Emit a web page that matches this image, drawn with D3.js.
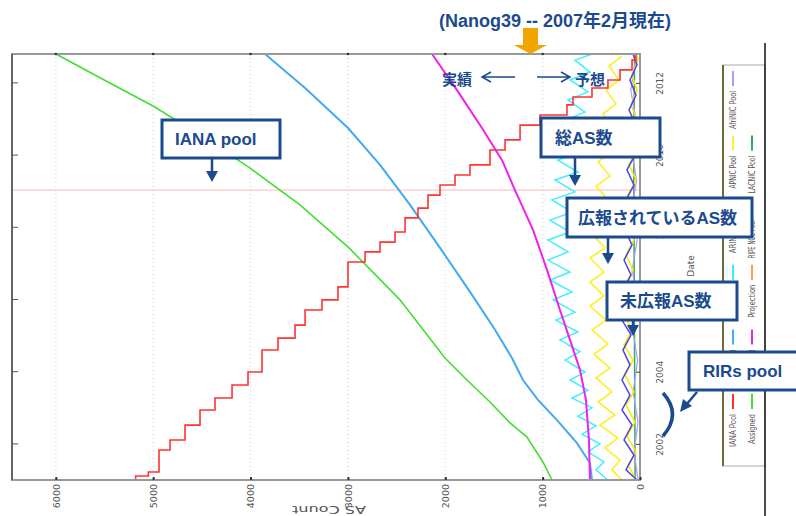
<!DOCTYPE html>
<html>
<head>
<meta charset="utf-8">
<script src="https://cdn.jsdelivr.net/npm/d3@7"></script>
<style>
  body { margin: 0; background: #fff; }
  svg { display: block; }
</style>
</head>
<body>
<svg width="796" height="516"></svg>
<script>
// ---- data (date in decimal years, value = AS count) ----
const countTicks = [0, 1000, 2000, 3000, 4000, 5000, 6000];
const dateTicks = [2002, 2004, 2006, 2008, 2010, 2012];
const thresholdYear = 2009.03;

const assigned = [[2001.00,904],[2001.50,997],[2002.19,1161],[2002.58,1335],[2003.16,1541],[2003.77,1777],
  [2004.38,2003],[2005.99,2465],[2007.43,2989],[2008.62,3492],[2009.64,4005],[2010.56,4519],
  [2011.36,5001],[2012.14,5546],[2012.80,5998]];

const advertised = [[2001.00,493],[2001.47,514],[2002.02,647],[2002.66,852],[2003.22,1048],[2003.77,1202],
  [2004.38,1315],[2005.16,1489],[2006.21,1746],[2007.43,2054],[2008.62,2362],[2009.73,2670],
  [2010.75,2999],[2011.86,3440],[2012.80,3851]];

const unadvertised = [[2001.00,514],[2002.11,524],[2003.22,555],[2004.05,616],[2004.88,719],[2005.71,822],
  [2006.82,955],[2007.93,1099],[2009.03,1284],[2009.86,1417],[2010.75,1623],[2011.80,1880],[2012.80,2136]];

const ianaPool = [[2001.00,5290],[2001.11,5180],[2001.22,5050],[2001.83,4940],[2002.11,4827],[2002.52,4673],
  [2002.94,4519],[2003.27,4365],[2003.63,4190],[2003.99,4026],[2004.60,3882],[2004.93,3718],
  [2005.29,3543],[2005.71,3440],[2005.99,3266],[2006.35,3102],[2007.04,2999],[2007.32,2824],
  [2007.59,2670],[2007.87,2516],[2008.26,2413],[2008.53,2280],[2008.89,2177],[2009.17,2054],
  [2009.45,1900],[2009.73,1746],[2010.14,1541],[2010.42,1386],[2010.83,1232],[2011.11,1027],
  [2011.39,750],[2011.61,688],[2011.86,493],[2012.08,329],[2012.36,205],[2012.63,82],[2012.80,41]];

const rirPool = [[2001.00,329],[2001.28,452],[2001.50,370],[2001.78,534],[2002.00,411],[2002.27,596],
  [2002.50,452],[2002.77,637],[2003.00,493],[2003.27,698],[2003.49,534],[2003.77,719],[2003.99,565],
  [2004.32,770],[2004.55,616],[2004.88,822],[2005.10,637],[2005.43,863],[2005.65,668],[2005.99,893],
  [2006.21,698],[2006.54,924],[2006.76,719],[2007.09,945],[2007.32,739],[2007.65,945],[2007.87,719],
  [2008.20,924],[2008.42,698],[2008.76,904],[2008.98,668],[2009.31,873],[2009.53,637],[2009.86,842],
  [2010.09,616],[2010.42,801],[2010.64,596],[2010.97,770],[2011.19,565],[2011.53,739],[2011.75,534],
  [2012.08,719],[2012.30,514],[2012.63,668],[2012.80,493]];

const arinPool = [[2001.00,185],[2001.28,288],[2001.55,205],[2001.89,359],[2002.16,226],[2002.52,411],
  [2002.80,257],[2003.16,431],[2003.44,288],[2003.83,452],[2004.10,308],[2004.49,472],[2004.77,329],
  [2005.16,493],[2005.43,349],[2005.82,514],[2006.10,370],[2006.48,514],[2006.76,370],[2007.15,514],
  [2007.43,359],[2007.81,493],[2008.09,339],[2008.48,472],[2008.76,329],[2009.14,452],[2009.42,308],
  [2009.81,431],[2010.09,288],[2010.47,411],[2010.75,267],[2011.14,380],[2011.42,246],[2011.80,349],
  [2012.08,216],[2012.47,318],[2012.74,185]];

const apnicPool = [[2001.00,41],[2001.42,123],[2001.78,41],[2002.22,134],[2002.61,51],[2003.08,144],
  [2003.44,62],[2003.91,154],[2004.32,72],[2004.74,164],[2005.16,82],[2005.57,164],[2005.99,82],
  [2006.40,154],[2006.82,72],[2007.23,144],[2007.65,62],[2008.06,134],[2008.48,51],[2008.89,123],
  [2009.31,41],[2009.73,113],[2010.14,41],[2010.56,103],[2010.97,31],[2011.39,92],[2011.80,31],
  [2012.22,82],[2012.63,21],[2012.80,41]];

const ripePool = [[2001.00,31],[2001.28,144],[2001.69,62],[2002.11,164],[2002.52,82],[2002.94,185],
  [2003.35,103],[2003.77,185],[2004.19,103],[2004.60,175],[2005.02,92],[2005.43,185],[2005.85,103],
  [2006.26,175],[2006.68,92],[2007.09,164],[2007.51,82],[2007.93,154],[2008.34,72],[2008.76,144],
  [2009.17,62],[2009.59,134],[2010.00,51],[2010.42,123],[2010.83,41],[2011.25,113],[2011.66,41],
  [2012.08,103],[2012.50,31],[2012.80,72]];

const afrinicPool = [[2001.00,20],[2001.78,60],[2002.61,20],[2003.44,70],[2004.32,25],[2005.16,75],
  [2005.99,30],[2006.82,80],[2007.65,30],[2008.48,85],[2009.31,35],[2010.14,90],[2010.97,40],
  [2011.80,95],[2012.63,45],[2012.80,60]];

const lacnicPool = [[2001.00,50],[2004.00,55],[2007.00,60],[2010.00,65],[2012.80,55]];

// legend: [label, colour, column, row]
const legendItems = [
  ["AfriNIC Pool", "#a89cff", 0, 0], ["APNIC Pool", "#ffee33", 0, 1], ["ARIN Pool", "#ffee00", 0, 2],
  ["RIR Pool", "#33eeff", 0, 3], ["Advertised", "#44aaff", 0, 4], ["IANA Pool", "#ff3030", 0, 5],
  ["LACNIC Pool", "#33aa55", 1, 1], ["RIPE NCC Pool", "#4444ee", 1, 2], ["Projection", "#ff9966", 1, 3],
  ["Unadvertised", "#ee22ee", 1, 4], ["Assigned", "#44dd33", 1, 5]
];

const navy = "#1b4a8e";

// ---- chart ----
const svg = d3.select("svg");
const pLeft = 12, pRight = 640, pTop = 54, pBottom = 480;

const x = d3.scaleLinear().domain([0, 6450]).range([pRight, pLeft]);
const y = d3.scaleLinear().domain([2001, 2012.8]).range([pBottom, pTop]);

const line = d3.line().x(d => x(d[1])).y(d => y(d[0]));

// gridlines
svg.append("g")
  .selectAll("line")
  .data(countTicks.slice(1))
  .enter()
  .append("line")
  .attr("x1", d => x(d)).attr("x2", d => x(d))
  .attr("y1", pTop).attr("y2", pBottom)
  .attr("stroke", "#c4c8e4")
  .attr("stroke-dasharray", "1,3");

// threshold line
svg.append("line")
  .attr("x1", pLeft).attr("x2", pRight)
  .attr("y1", y(thresholdYear)).attr("y2", y(thresholdYear))
  .attr("stroke", "#ffb8b8").attr("stroke-width", 1);

// series
const series = [
  [lacnicPool, "#33aa55", 1.5],
  [afrinicPool, "#a89cff", 1.2],
  [apnicPool, "#ffe600", 1.5],
  [ripePool, "#4a44e8", 1.5],
  [arinPool, "#ffee22", 1.6],
  [rirPool, "#44eeff", 1.5],
  [assigned, "#44dd33", 1.6],
  [advertised, "#44aaee", 2],
  [unadvertised, "#ee22ee", 2]
];
series.forEach(([data, color, w]) => {
  svg.append("path")
    .datum(data)
    .attr("fill", "none")
    .attr("stroke", color)
    .attr("stroke-width", w)
    .attr("d", line);
});

svg.append("path")
  .datum(ianaPool)
  .attr("fill", "none")
  .attr("stroke", "#ff3333")
  .attr("stroke-width", 1.6)
  .attr("d", line.curve(d3.curveStepAfter));

// frame
svg.append("rect")
  .attr("x", pLeft).attr("y", pTop)
  .attr("width", pRight - pLeft).attr("height", pBottom - pTop)
  .attr("fill", "none").attr("stroke", "#999").attr("stroke-width", 2);
svg.append("line")
  .attr("x1", pLeft).attr("x2", pLeft).attr("y1", pTop).attr("y2", pBottom)
  .attr("stroke", "#666").attr("stroke-width", 2);

// count axis (bottom), labels rotated like the source picture
const xAxis = svg.append("g")
  .attr("transform", `translate(0,${pBottom})`)
  .call(d3.axisBottom(x).tickValues(countTicks).tickSize(-3).tickFormat(d3.format("d")));
xAxis.select(".domain").remove();
xAxis.selectAll("line").attr("stroke", "#333").attr("stroke-width", 2);
xAxis.selectAll("text")
  .attr("x", 0).attr("y", 0).attr("dy", "0.35em")
  .attr("transform", "translate(0,4) rotate(-90)")
  .attr("text-anchor", "end")
  .style("font-family", "DejaVu Sans")
  .style("font-size", "9.5px")
  .attr("fill", "#555");

// tick dots on top edge
svg.append("g")
  .selectAll("circle")
  .data(countTicks.slice(1))
  .enter()
  .append("circle")
  .attr("cx", d => x(d)).attr("cy", pTop)
  .attr("r", 1.3).attr("fill", "#333");

// date axis (right)
const yAxis = svg.append("g")
  .attr("transform", `translate(${pRight},0)`)
  .call(d3.axisRight(y).tickValues(dateTicks).tickSize(-4).tickFormat(d3.format("d")));
yAxis.select(".domain").remove();
yAxis.selectAll("line").attr("stroke", "#444");
yAxis.selectAll("text")
  .attr("x", 0).attr("y", 0).attr("dy", "0.35em")
  .attr("transform", "translate(20,0) rotate(-90)")
  .attr("text-anchor", "middle")
  .style("font-family", "DejaVu Sans")
  .style("font-size", "9px")
  .attr("fill", "#555");

// left-side date ticks
svg.append("g")
  .selectAll("line")
  .data(dateTicks)
  .enter()
  .append("line")
  .attr("x1", pLeft).attr("x2", pLeft + 6)
  .attr("y1", d => y(d)).attr("y2", d => y(d))
  .attr("stroke", "#555");

// axis titles
svg.append("text")
  .attr("transform", "translate(329,506) rotate(180)")
  .attr("text-anchor", "middle")
  .attr("textLength", 74)
  .attr("lengthAdjust", "spacingAndGlyphs")
  .style("font-family", "DejaVu Sans")
  .style("font-size", "10px")
  .attr("fill", "#555")
  .text("AS Count");

svg.append("text")
  .attr("transform", "translate(691,266) rotate(-90)")
  .attr("text-anchor", "middle")
  .attr("dy", "0.35em")
  .style("font-family", "DejaVu Sans")
  .style("font-size", "9px")
  .attr("fill", "#555")
  .text("Date");

// legend
svg.append("rect")
  .attr("x", 723).attr("y", 65).attr("width", 42).attr("height", 401)
  .attr("fill", "#fff").attr("stroke", "#aaa").attr("stroke-width", 1);
svg.append("line")
  .attr("x1", 723).attr("x2", 723).attr("y1", 65).attr("y2", 466)
  .attr("stroke", "#6b6b3a").attr("stroke-width", 2);
svg.append("line")
  .attr("x1", 765).attr("x2", 765).attr("y1", 43).attr("y2", 516)
  .attr("stroke", "#111").attr("stroke-width", 1.5);

const leg = svg.append("g")
  .selectAll("g")
  .data(legendItems)
  .enter()
  .append("g")
  .attr("transform", d => `translate(${733 + d[2] * 19},${71 + d[3] * 64.6})`);
leg.append("line")
  .attr("x1", 0).attr("x2", 0).attr("y1", 0).attr("y2", 15)
  .attr("stroke", d => d[1]).attr("stroke-width", 2);
leg.append("text")
  .attr("transform", "translate(0,20) rotate(-90)")
  .attr("text-anchor", "end")
  .attr("dy", "0.35em")
  .attr("textLength", d => d[0].length > 10 ? 38 : d[0].length > 8 ? 33 : 30)
  .attr("lengthAdjust", "spacingAndGlyphs")
  .style("font-family", "DejaVu Sans")
  .style("font-size", "8px")
  .attr("fill", "#555")
  .text(d => d[0]);

// ---- annotations ----
const ann = svg.append("g");
const lat = "'Liberation Sans', 'Noto Sans CJK JP', sans-serif";

ann.append("text")
  .attr("x", 555).attr("y", 27)
  .attr("text-anchor", "middle")
  .style("font-family", lat)
  .style("font-weight", "bold")
  .style("font-size", "18px")
  .attr("fill", navy)
  .text("(Nanog39 -- 2007年2月現在)");

// orange "now" arrow
ann.append("path")
  .attr("d", "M523,28 L538,28 L538,45 L547,45 L530.5,54 L514,45 L523,45 Z")
  .attr("fill", "#f0a500");

ann.append("text").attr("x", 442).attr("y", 85)
  .style("font-family", lat).style("font-weight", "bold").style("font-size", "15px")
  .attr("fill", navy).text("実績");
ann.append("text").attr("x", 575).attr("y", 85)
  .style("font-family", lat).style("font-weight", "bold").style("font-size", "15px")
  .attr("fill", navy).text("予想");

ann.append("path")
  .attr("d", "M515,77 L482,77 M491,72 L482,77 L491,82 M537,77 L570,77 M561,72 L570,77 L561,82")
  .attr("fill", "none").attr("stroke", navy).attr("stroke-width", 1.5);

// boxes: [label, x, y, w, h, textX]
const boxes = [
  ["IANA pool", 162, 120, 118, 38, 175],
  ["総AS数", 541, 118, 119, 39, 555],
  ["広報されているAS数", 567, 198, 185, 39, 578],
  ["未広報AS数", 607, 282, 130, 38, 620],
  ["RIRs pool", 689, 352, 112, 38, 703]
];
boxes.forEach(([t, bx, by, bw, bh, tx]) => {
  ann.append("rect")
    .attr("x", bx).attr("y", by).attr("width", bw).attr("height", bh)
    .attr("fill", "#fff").attr("stroke", navy).attr("stroke-width", 3);
  ann.append("text")
    .attr("x", tx).attr("y", by + bh / 2 + 6)
    .style("font-family", lat).style("font-weight", "bold").style("font-size", "17px")
    .attr("fill", navy).text(t);
});

// down arrows: [x, y from, y to]
const downArrows = [[212, 158, 182], [575, 157, 186], [608, 237, 264], [633, 320, 336]];
downArrows.forEach(([ax, y0, y1]) => {
  ann.append("line")
    .attr("x1", ax).attr("x2", ax).attr("y1", y0).attr("y2", y1 - 9)
    .attr("stroke", navy).attr("stroke-width", 2.5);
  ann.append("path")
    .attr("d", `M${ax - 6},${y1 - 11} L${ax + 6},${y1 - 11} L${ax},${y1} Z`)
    .attr("fill", navy);
});

// RIRs pool pointer and bracket
ann.append("line")
  .attr("x1", 697).attr("y1", 392).attr("x2", 686).attr("y2", 405)
  .attr("stroke", navy).attr("stroke-width", 2.5);
ann.append("path")
  .attr("d", "M680,412 L683,399 L692,406 Z")
  .attr("fill", navy);
ann.append("path")
  .attr("d", "M663,393 Q682,414 663,436")
  .attr("fill", "none").attr("stroke", navy).attr("stroke-width", 3.5);
</script>
</body>
</html>
